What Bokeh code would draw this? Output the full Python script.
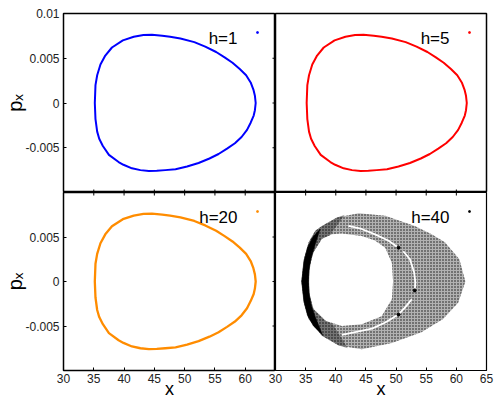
from bokeh.plotting import figure
from bokeh.layouts import column, row
from bokeh.models import Range1d, FixedTicker, Label, NumeralTickFormatter
from bokeh.embed import file_html
from bokeh.resources import INLINE

# ---------------- data ----------------
# closed orbit (x, p_x) seen in panels h=1, h=5, h=20
orbit_x = [35.17, 35.28, 35.56, 36.1, 36.9, 38.0, 39.8, 41.6, 43.2, 44.6, 46.3, 47.6,
           49.3, 51.6, 53.4, 55.2, 56.6, 57.9, 59.1, 60.15, 60.9, 61.35, 61.6, 61.73,
           61.6, 61.4, 60.9, 60.3, 59.4, 58.3, 57.0, 55.6, 54.1, 52.3, 50.4, 48.5, 46.8,
           45.4, 44.1, 42.7, 41.3, 39.9, 39.1, 37.5, 36.5, 35.9, 35.56, 35.28, 35.17]
orbit_p = [0.0, 0.002, 0.0031, 0.0043, 0.0053, 0.0062, 0.0070, 0.0074, 0.0076, 0.00763,
           0.00752, 0.0074, 0.0072, 0.0068, 0.0063, 0.0057, 0.0051, 0.0045, 0.0038, 0.0031,
           0.0023, 0.0015, 0.0008, 0.0, -0.0008, -0.0014, -0.0022, -0.0030, -0.0038,
           -0.0045, -0.0051, -0.0057, -0.0062, -0.0067, -0.0071, -0.0074, -0.0075, -0.00757,
           -0.0076, -0.0075, -0.0073, -0.0069, -0.0066, -0.0058, -0.0048, -0.0040, -0.0032,
           -0.0018, 0.0]

# h=40: outer and inner edges of the scattered point cloud
cloud_outer_x = [34.3, 34.7, 35.5, 36.6, 37.7, 40.2, 43.8, 48.2, 53.1, 55.9, 58.1, 60.5,
                 61.5, 60.3, 57.8, 54.2, 49.3, 44.3, 40.5, 37.7, 35.5, 34.7]
cloud_outer_p = [0.0, 0.0025, 0.0044, 0.0057, 0.00625, 0.0072, 0.00768, 0.0074, 0.00625,
                 0.0053, 0.0044, 0.0025, 0.0, -0.0024, -0.0042, -0.0057, -0.0069, -0.0076,
                 -0.0072, -0.0061, -0.0042, -0.0024]
cloud_inner_x = [35.5, 35.7, 36.3, 37.7, 39.4, 41.0, 44.3, 46.5, 48.2, 49.3, 49.5, 49.3,
                 47.6, 44.3, 41.0, 38.3, 36.3, 35.7]
cloud_inner_p = [0.0, 0.0018, 0.0033, 0.0048, 0.0053, 0.0054, 0.0051, 0.0046, 0.0038,
                 0.0021, 0.0, -0.002, -0.0039, -0.0048, -0.005, -0.0044, -0.0031, -0.0016]
# darker left part of the cloud
dark_x = [41.5, 40.2, 37.7, 36.6, 35.5, 34.7, 34.3, 34.7, 35.5, 37.7, 40.5, 42.0,
          39.5, 38.3, 36.3, 35.7, 35.5, 35.7, 36.3, 37.7, 39.0]
dark_p = [0.0075, 0.0072, 0.00625, 0.0057, 0.0044, 0.0025, 0.0, -0.0024, -0.0042,
          -0.0061, -0.0072, -0.0075, -0.0048, -0.0044, -0.0031, -0.0016, 0.0, 0.0018,
          0.0033, 0.0048, 0.0052]
# solid crescent on the far left of the cloud
dense_x = [37.4, 36.2, 35.3, 34.7, 34.35, 34.7, 35.3, 36.3, 37.8,
           36.6, 35.9, 35.55, 35.5, 35.55, 35.9, 36.5]
dense_p = [0.0059, 0.0050, 0.0038, 0.0022, 0.0, -0.0022, -0.0038, -0.0050, -0.0060,
           -0.0040, -0.0026, -0.0012, 0.0, 0.0012, 0.0026, 0.0040]
# empty (white) arcs inside the cloud
gap_upper_x = [42.1, 44.3, 46.5, 48.7, 50.4]
gap_upper_p = [0.00625, 0.0059, 0.0053, 0.0046, 0.0038]
gap_mid_x = [51.2, 52.3, 53.0, 53.2, 53.1]
gap_mid_p = [0.0034, 0.0025, 0.001, -0.0001, -0.001]
gap_lower_x = [52.6, 51.5, 50.4, 48.2, 46.0, 43.2, 41.0]
gap_lower_p = [-0.002, -0.0029, -0.0037, -0.0046, -0.0053, -0.0057, -0.006]
cusp_x = [50.4, 53.1, 50.4]
cusp_p = [0.0038, -0.001, -0.0037]

panel_labels = ["h=1", "h=5", "h=20", "h=40"]
panel_colors = ["#0000ff", "#ff0000", "#ff8c00", "#000000"]

x_ticks = [30, 35, 40, 45, 50, 55, 60, 65]
p_ticks = [-0.01, -0.005, 0.0, 0.005, 0.01]

FONT = "Liberation Sans"
TICK = 3
FW = [212, 211]          # frame widths of the two columns (px)
FH = [179, 178]          # frame heights of the two rows (px)
LEFT, TOP, RIGHT, BOTTOM, OVER = 63, 13, 8, 31, 8


def make_panel(c, r):
    bl = LEFT if c == 0 else (OVER if r == 1 else 0)
    br = 0 if c == 0 else RIGHT
    bt = TOP if r == 0 else 0
    bb = 0 if r == 0 else BOTTOM
    f = figure(width=bl + FW[c] + br, height=bt + FH[r] + bb,
               x_range=Range1d(x_ticks[0], x_ticks[-1]),
               y_range=Range1d(p_ticks[0], p_ticks[-1]),
               output_backend="svg", toolbar_location=None,
               min_border_left=bl, min_border_right=br, min_border_top=bt,
               min_border_bottom=bb)
    f.grid.visible = False
    f.outline_line_color = "black"
    f.outline_line_width = 1.5
    f.background_fill_color = "white"
    f.border_fill_color = "white"
    if c == 1 and r == 1:
        f.border_fill_alpha = 0
        f.margin = (0, 0, 0, -OVER)
        f.outline_line_width = 1.2
    for ax in (f.xaxis[0], f.yaxis[0]):
        ax.major_tick_in = TICK
        ax.major_tick_out = 0
        ax.minor_tick_line_color = None
        ax.axis_line_color = None
        ax.major_tick_line_color = "black"
        ax.major_label_text_font = FONT
        ax.major_label_text_font_size = "12px"
        ax.major_label_text_color = "#222222"
        ax.axis_label_text_font = FONT
        ax.axis_label_text_font_style = "normal"
        ax.axis_label_text_color = "black"
    if r == 1:
        f.xaxis.ticker = FixedTicker(ticks=x_ticks if c == 1 else x_ticks[:-1])
        f.xaxis.major_label_standoff = 3
        f.xaxis.axis_label = "x"
        f.xaxis.axis_label_text_font_size = "18px"
        f.xaxis.axis_label_standoff = -7
    else:
        f.xaxis.visible = False
    if c == 0:
        f.yaxis.ticker = FixedTicker(ticks=p_ticks[1:] if r == 0 else p_ticks[1:-1])
        f.yaxis.formatter = NumeralTickFormatter(format="0.[000]")
        f.yaxis.major_label_standoff = 4
        f.yaxis.axis_label = "p\u2093"
        f.yaxis.axis_label_text_font_size = "20px"
        f.yaxis.axis_label_standoff = -4
    else:
        f.yaxis.visible = False
    # ticks along the edges shared between panels
    ppx = FW[c] / (x_ticks[-1] - x_ticks[0])
    ppp = FH[r] / (p_ticks[-1] - p_ticks[0])
    inner_x = x_ticks[1:-1]
    inner_p = p_ticks[1:-1]
    edge_p = p_ticks[0] if r == 0 else p_ticks[-1]
    sgn = 1 if r == 0 else -1
    f.segment(x0=inner_x, y0=[edge_p] * len(inner_x), x1=inner_x,
              y1=[edge_p + sgn * TICK / ppp] * len(inner_x), line_color="black", line_width=1)
    if c == 0:
        f.segment(x0=[x_ticks[-1]] * len(inner_p), y0=inner_p,
                  x1=[x_ticks[-1] - TICK / ppx] * len(inner_p), y1=inner_p,
                  line_color="black", line_width=1)
    return f, ppx, ppp


panels = []
for k, (lab, col) in enumerate(zip(panel_labels, panel_colors)):
    c, r = k % 2, k // 2
    f, ppx, ppp = make_panel(c, r)
    if lab != "h=40":
        f.line(orbit_x, orbit_p, line_color=col, line_width=2.3 if lab == "h=20" else 2,
               line_join="round")
    else:
        f.multi_polygons(xs=[[[cloud_outer_x, cloud_inner_x]]],
                         ys=[[[cloud_outer_p, cloud_inner_p]]],
                         fill_color="black", fill_alpha=0.3, line_color=None,
                         hatch_pattern=".", hatch_color="black", hatch_scale=3,
                         hatch_weight=1.4, hatch_alpha=0.9)
        f.patch(dark_x, dark_p, fill_color="black", fill_alpha=0.35, line_color=None)
        f.patch(dense_x, dense_p, fill_color="black", line_color="black", line_width=0.5)
        for gx, gp in ((gap_upper_x, gap_upper_p), (gap_mid_x, gap_mid_p),
                       (gap_lower_x, gap_lower_p)):
            f.line(gx, gp, line_color="white", line_width=1.8)
        f.scatter(cusp_x, cusp_p, size=3, color="black")
    # key: label text and a tiny point sample
    f.add_layout(Label(x=174, y=FH[r] - 24.7, x_units="screen", y_units="screen",
                       text=lab, text_align="right", text_baseline="alphabetic",
                       text_font=FONT, text_font_size="17px", text_color="black"))
    f.scatter([x_ticks[0] + 194 / ppx], [p_ticks[-1] - 19 / ppp], size=1.5,
              marker="square", color=col)
    panels.append(f)

layout = column(row(panels[0], panels[1]), row(panels[2], panels[3]))
open("out.html", "w").write(file_html(layout, INLINE))
